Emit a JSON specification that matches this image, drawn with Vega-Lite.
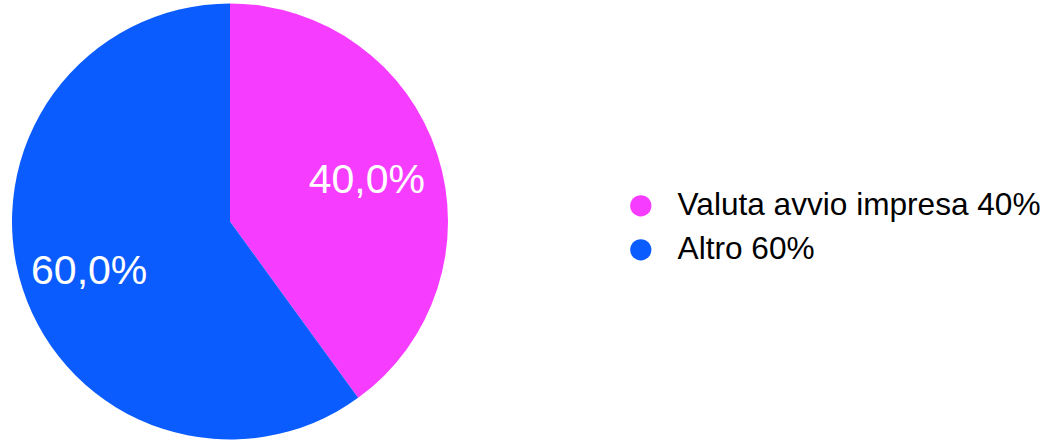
{
  "$schema": "https://vega.github.io/schema/vega-lite/v6.json",
  "width": 460,
  "height": 443,
  "padding": 0,
  "autosize": {"type": "pad"},
  "background": "white",
  "config": {"view": {"stroke": null}, "font": "Liberation Sans"},
  "data": {
    "values": [
      {"categoria": "Valuta avvio impresa 40%", "valore": 40, "etichetta": "40,0%", "ordine": 1},
      {"categoria": "Altro 60%", "valore": 60, "etichetta": "60,0%", "ordine": 2}
    ]
  },
  "encoding": {
    "theta": {"field": "valore", "type": "quantitative", "stack": true},
    "order": {"field": "ordine", "type": "quantitative"}
  },
  "layer": [
    {
      "mark": {"type": "arc", "outerRadius": 218, "stroke": null},
      "encoding": {
        "color": {
          "field": "categoria",
          "type": "nominal",
          "scale": {"domain": ["Valuta avvio impresa 40%", "Altro 60%"], "range": ["#F63DFF", "#0B5CFF"]},
          "legend": {
            "title": null,
            "orient": "none",
            "legendX": 625,
            "legendY": 190,
            "symbolType": "circle",
            "symbolSize": 452,
            "symbolStrokeWidth": 0,
            "labelFontSize": 31.6,
            "labelFont": "Liberation Sans",
            "labelColor": "#000000",
            "labelLimit": 600,
            "labelOffset": 21,
            "rowPadding": 11,
            "encode": {
              "symbols": {"update": {"fill": {"signal": "datum.value === 'Altro 60%' ? '#0A62FF' : '#D35AFF'"}, "opacity": {"value": 1}}}
            }
          }
        }
      }
    },
    {
      "mark": {"type": "text", "radius": 146, "fontSize": 41, "font": "Liberation Sans", "baseline": "middle", "dy": 5, "dx": -2},
      "encoding": {
        "text": {"field": "etichetta", "type": "nominal"},
        "color": {"value": "#FFFFFF"}
      }
    }
  ]
}
